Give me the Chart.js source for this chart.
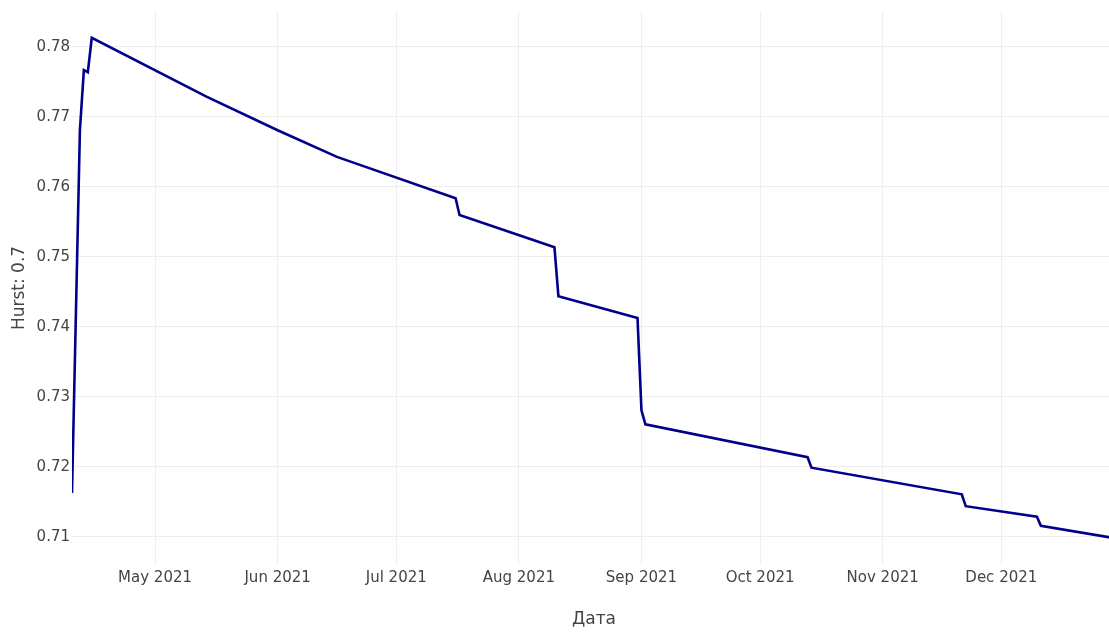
<!DOCTYPE html>
<html lang="ru">
  <head>
    <meta charset="UTF-8" />
    <title>Hurst</title>
    <style>
      body {
        margin: 0;
        background: #fff;
        overflow: hidden;
      }
      #wrap {
        width: 1109px;
        height: 633px;
        overflow: hidden;
      }
    </style>
    <script src="https://cdn.jsdelivr.net/npm/chart.js"></script>
  </head>
  <body>
    <!-- plot area runs a few px past the right edge, like the original -->
    <div id="wrap"><canvas id="hurstChart" width="1116" height="633"></canvas></div>

    <script>
      // values
      const dates = [
        "2021-04-10", "2021-04-12", "2021-04-13", "2021-04-14", "2021-04-15",
        "2021-05-14", "2021-06-01", "2021-06-16", "2021-07-16", "2021-07-17",
        "2021-08-10", "2021-08-11", "2021-08-31", "2021-09-01", "2021-09-02",
        "2021-10-13", "2021-10-14", "2021-11-21", "2021-11-22", "2021-12-10",
        "2021-12-11", "2021-12-30",
      ];
      const hurst = [
        0.7163, 0.7681, 0.7767, 0.7764, 0.7813,
        0.7729, 0.7681, 0.7643, 0.7584, 0.7560,
        0.7514, 0.7444, 0.7413, 0.7281, 0.7261,
        0.7214, 0.7199, 0.7161, 0.7144, 0.7129,
        0.7116, 0.7098,
      ];
      const monthTicks = [
        "2021-05-01", "2021-06-01", "2021-07-01", "2021-08-01",
        "2021-09-01", "2021-10-01", "2021-11-01", "2021-12-01",
      ];
      const monthNames = ["Jan", "Feb", "Mar", "Apr", "May", "Jun", "Jul", "Aug", "Sep", "Oct", "Nov", "Dec"];
      const yTicks = [0.71, 0.72, 0.73, 0.74, 0.75, 0.76, 0.77, 0.78];

      // day of year, Jan 1 = 0
      function dayNum(s) {
        const d = new Date(s + "T00:00:00Z");
        return (d - Date.UTC(2021, 0, 1)) / 86400000;
      }
      function dayLabel(n) {
        const d = new Date(Date.UTC(2021, 0, 1) + n * 86400000);
        return monthNames[d.getUTCMonth()] + " " + d.getUTCFullYear();
      }

      const points = dates.map((d, i) => ({ x: dayNum(d), y: hurst[i] }));
      const font = "'DejaVu Sans', Verdana, sans-serif";

      new Chart(document.getElementById("hurstChart"), {
        type: "line",
        data: {
          datasets: [
            {
              label: "Hurst",
              data: points,
              borderColor: "#00008b",
              borderWidth: 2.6,
              pointRadius: 0,
              tension: 0,
              fill: false,
            },
          ],
        },
        options: {
          responsive: false,
          animation: false,
          layout: { padding: { top: 11, right: 0, left: 0, bottom: 0 } },
          plugins: { legend: { display: false }, tooltip: { enabled: false } },
          scales: {
            x: {
              type: "linear",
              min: dayNum("2021-04-10"),
              max: dayNum("2021-12-30"),
              afterBuildTicks: (axis) => {
                axis.ticks = monthTicks.map((m) => ({ value: dayNum(m) }));
              },
              afterFit: (axis) => {
                axis.height = 68;
              },
              ticks: {
                callback: (v) => dayLabel(v),
                color: "#444",
                font: { family: font, size: 15 },
                padding: 4,
                maxRotation: 0,
                autoSkip: false,
              },
              grid: { color: "#eeeeee", drawTicks: false },
              border: { display: false },
              title: {
                display: true,
                text: "Дата",
                color: "#444",
                font: { family: font, size: 17 },
                padding: { top: 4, bottom: 3 },
              },
            },
            y: {
              min: 0.706,
              max: 0.78514,
              afterBuildTicks: (axis) => {
                axis.ticks = yTicks.map((v) => ({ value: v }));
              },
              afterFit: (axis) => {
                axis.width = 72;
              },
              ticks: {
                callback: (v) => v.toFixed(2),
                color: "#444",
                font: { family: font, size: 15 },
                padding: 2,
              },
              grid: { color: "#eeeeee", drawTicks: false },
              border: { display: false },
              title: {
                display: true,
                text: "Hurst: 0.7",
                color: "#444",
                font: { family: font, size: 17 },
                padding: { top: 9, bottom: 0 },
              },
            },
          },
        },
      });
    </script>
  </body>
</html>
